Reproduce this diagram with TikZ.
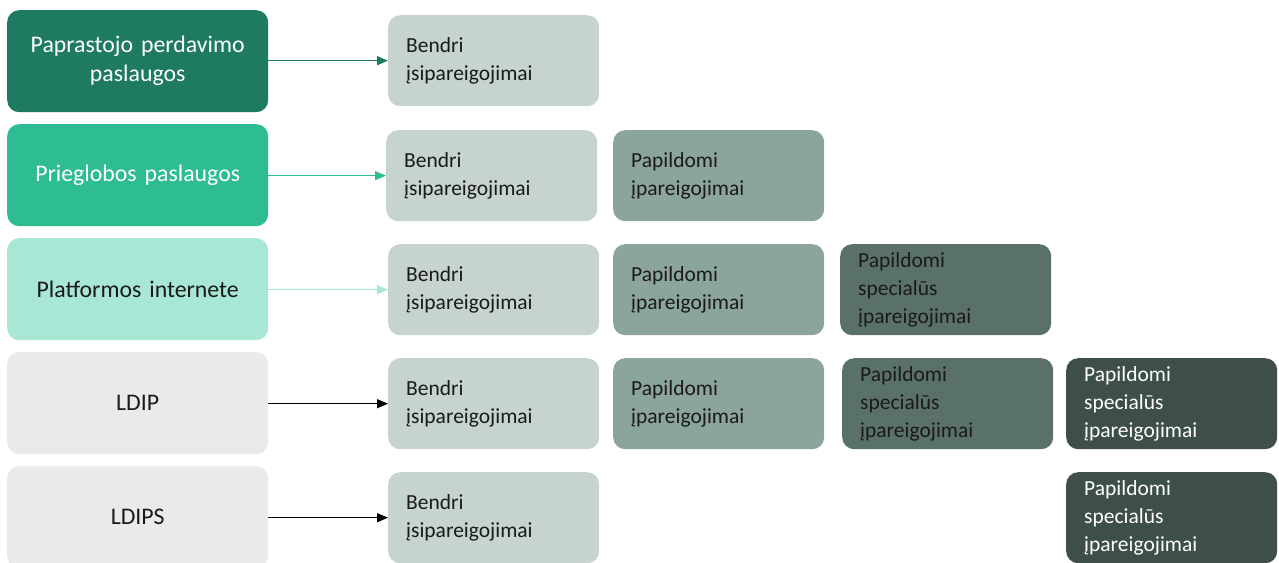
\documentclass[tikz,border=0pt]{standalone}
\usepackage{fontspec}
\setmainfont{Carlito}
\usetikzlibrary{arrows.meta}
\definecolor{cA}{HTML}{1E7A60}
\definecolor{cB}{HTML}{2EBD93}
\definecolor{cC}{HTML}{A8E6D5}
\definecolor{cD}{HTML}{E8EBE9}
\definecolor{cBen}{HTML}{C6D3CE}
\definecolor{cPap}{HTML}{8CA59B}
\definecolor{cSp}{HTML}{5A7168}
\definecolor{cSd}{HTML}{3E4F48}
\definecolor{txt}{HTML}{1A1A1A}
\tikzset{
  box/.style={rounded corners=12pt, anchor=north west, inner sep=0pt, font=\fontsize{21.5}{28}\selectfont},
  lbox/.style={box, minimum width=261pt, minimum height=102pt, align=center, text width=250pt, font=\fontsize{23.8}{29}\selectfont},
  rbox/.style={box, minimum width=211pt, minimum height=91pt, align=left, text width=175pt, inner xsep=18pt},
  ben/.style={rbox, fill=cBen, text=txt},
  pap/.style={rbox, fill=cPap, text=txt},
  spl/.style={rbox, fill=cSp, text=txt},
  spd/.style={rbox, fill=cSd, text=white},
  arr/.style={line width=1.2pt, -{Triangle[length=11pt,width=9pt]}}
}
\begin{document}
\begin{tikzpicture}[x=1pt,y=-1pt]
\useasboundingbox (0,0) rectangle (1279,562);
\clip (0,0) rectangle (1279,562);
% left column
\node[lbox, fill=cA, text=white] (L1) at (7,10) {Paprastojo perdavimo\\paslaugos};
\node[lbox, fill=cB, text=white] (L2) at (7,124) {Prieglobos paslaugos};
\node[lbox, fill=cC, text=txt] (L3) at (7,238) {Platformos internete};
\node[lbox, fill=cD, text=txt] (L4) at (7,352) {LDIP};
\node[lbox, fill=cD, text=txt] (L5) at (7,466) {LDIPS};
% Bendri column
\node[ben] (B1) at (388,15) {Bendri\\įsipareigojimai};
\node[ben] (B2) at (386,130) {Bendri\\įsipareigojimai};
\node[ben] (B3) at (388,244) {Bendri\\įsipareigojimai};
\node[ben] (B4) at (388,358) {Bendri\\įsipareigojimai};
\node[ben] (B5) at (388,472) {Bendri\\įsipareigojimai};
% Papildomi column
\node[pap] (P2) at (613,130) {Papildomi\\įpareigojimai};
\node[pap] (P3) at (613,244) {Papildomi\\įpareigojimai};
\node[pap] (P4) at (613,358) {Papildomi\\įpareigojimai};
% special columns
\node[spl] (S3) at (840,244) {Papildomi\\specialūs\\įpareigojimai};
\node[spl] (S4) at (842,358) {Papildomi\\specialūs\\įpareigojimai};
\node[spd] (D4) at (1066,358) {Papildomi\\specialūs\\įpareigojimai};
\node[spd] (D5) at (1066,472) {Papildomi\\specialūs\\įpareigojimai};
% arrows
\draw[arr, cA] (L1.east |- B1.west) -- (B1.west);
\draw[arr, cB] (L2.east |- B2.west) -- (B2.west);
\draw[arr, cC] (L3.east |- B3.west) -- (B3.west);
\draw[arr, black] (L4.east |- B4.west) -- (B4.west);
\draw[arr, black] (L5.east |- B5.west) -- (B5.west);
\end{tikzpicture}
\end{document}
